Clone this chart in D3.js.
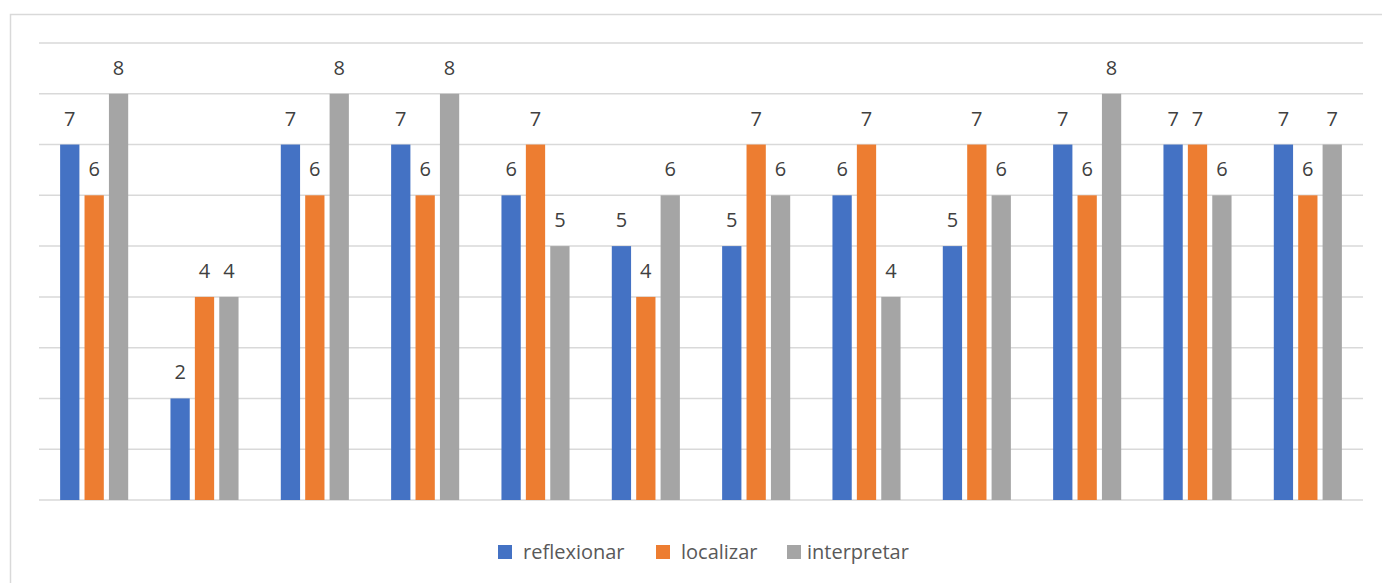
<!DOCTYPE html>
<html>
<head>
<meta charset="utf-8">
<script src="https://cdn.jsdelivr.net/npm/d3@7/dist/d3.min.js"></script>
<style>
  body { margin: 0; background: #fff; }
  svg { display: block; }
</style>
</head>
<body>
<div id="chart"></div>
<script>
// groups have no labels in the original, so just number them
var categories = ["1", "2", "3", "4", "5", "6", "7", "8", "9", "10", "11", "12"];
var seriesNames = ["reflexionar", "localizar", "interpretar"];
var seriesColors = ["#4472C4", "#ED7D31", "#A5A5A5"];

var reflexionar = [7, 2, 7, 7, 6, 5, 5, 6, 5, 7, 7, 7];
var localizar   = [6, 4, 6, 6, 7, 4, 7, 7, 7, 6, 7, 6];
var interpretar = [8, 4, 8, 8, 5, 6, 6, 4, 6, 8, 6, 7];
var yTicks = [0, 1, 2, 3, 4, 5, 6, 7, 8, 9];

var seriesValues = [reflexionar, localizar, interpretar];

var width = 1382, height = 583;

var svgContainer = d3.select("#chart").append("svg")
                     .attr("width", width)
                     .attr("height", height);

// chart frame
svgContainer.append("rect")
            .attr("x", 10.5).attr("y", 14.5)
            .attr("width", 1380).attr("height", 600)
            .style("fill", "none")
            .style("stroke", "#d9d9d9")
            .style("stroke-width", 1.5);

var x0 = d3.scaleBand()
           .domain(categories)
           .range([39, 1363])
           .paddingInner(0.383)
           .paddingOuter(0.1915);

var x1 = d3.scaleBand()
           .domain(seriesNames)
           .range([0, x0.bandwidth()])
           .paddingInner(0.21);

var y = d3.scaleLinear()
          .domain([0, 9])
          .range([500, 43]);

// gridlines
svgContainer.selectAll("line.grid")
            .data(yTicks)
            .enter()
            .append("line")
            .attr("class", "grid")
            .attr("x1", 39)
            .attr("x2", 1363)
            .attr("y1", function (d) { return y(d); })
            .attr("y2", function (d) { return y(d); })
            .style("stroke", "#d9d9d9")
            .style("stroke-width", 1.5);

var barData = [];
categories.forEach(function (c, i) {
  seriesNames.forEach(function (s, j) {
    barData.push({ cat: c, series: s, value: seriesValues[j][i], color: seriesColors[j] });
  });
});

svgContainer.selectAll("rect.bar")
            .data(barData)
            .enter()
            .append("rect")
            .attr("class", "bar")
            .attr("x", function (d) { return x0(d.cat) + x1(d.series); })
            .attr("y", function (d) { return y(d.value); })
            .attr("width", x1.bandwidth())
            .attr("height", function (d) { return y(0) - y(d.value); })
            .style("fill", function (d) { return d.color; });

// data labels
svgContainer.selectAll("text.lbl")
            .data(barData)
            .enter()
            .append("text")
            .attr("class", "lbl")
            .attr("x", function (d) { return x0(d.cat) + x1(d.series) + x1.bandwidth() / 2; })
            .attr("y", function (d) { return y(d.value) - 19; })
            .attr("text-anchor", "middle")
            .style("font-family", "'Open Sans', sans-serif")
            .style("font-size", "20px")
            .style("fill", "#404040")
            .text(function (d) { return d.value; });

// legend
var legendX = [498, 656, 787];
var legendTextX = [523, 681, 807];
var legend = svgContainer.selectAll("g.legend")
                         .data(seriesNames)
                         .enter()
                         .append("g")
                         .attr("class", "legend");

legend.append("rect")
      .attr("x", function (d, i) { return legendX[i]; })
      .attr("y", 545)
      .attr("width", 14)
      .attr("height", 14)
      .style("fill", function (d, i) { return seriesColors[i]; });

legend.append("text")
      .attr("x", function (d, i) { return legendTextX[i]; })
      .attr("y", 559)
      .style("font-family", "'Open Sans', sans-serif")
      .style("font-size", "20px")
      .style("fill", "#595959")
      .text(function (d) { return d; });
</script>
</body>
</html>
